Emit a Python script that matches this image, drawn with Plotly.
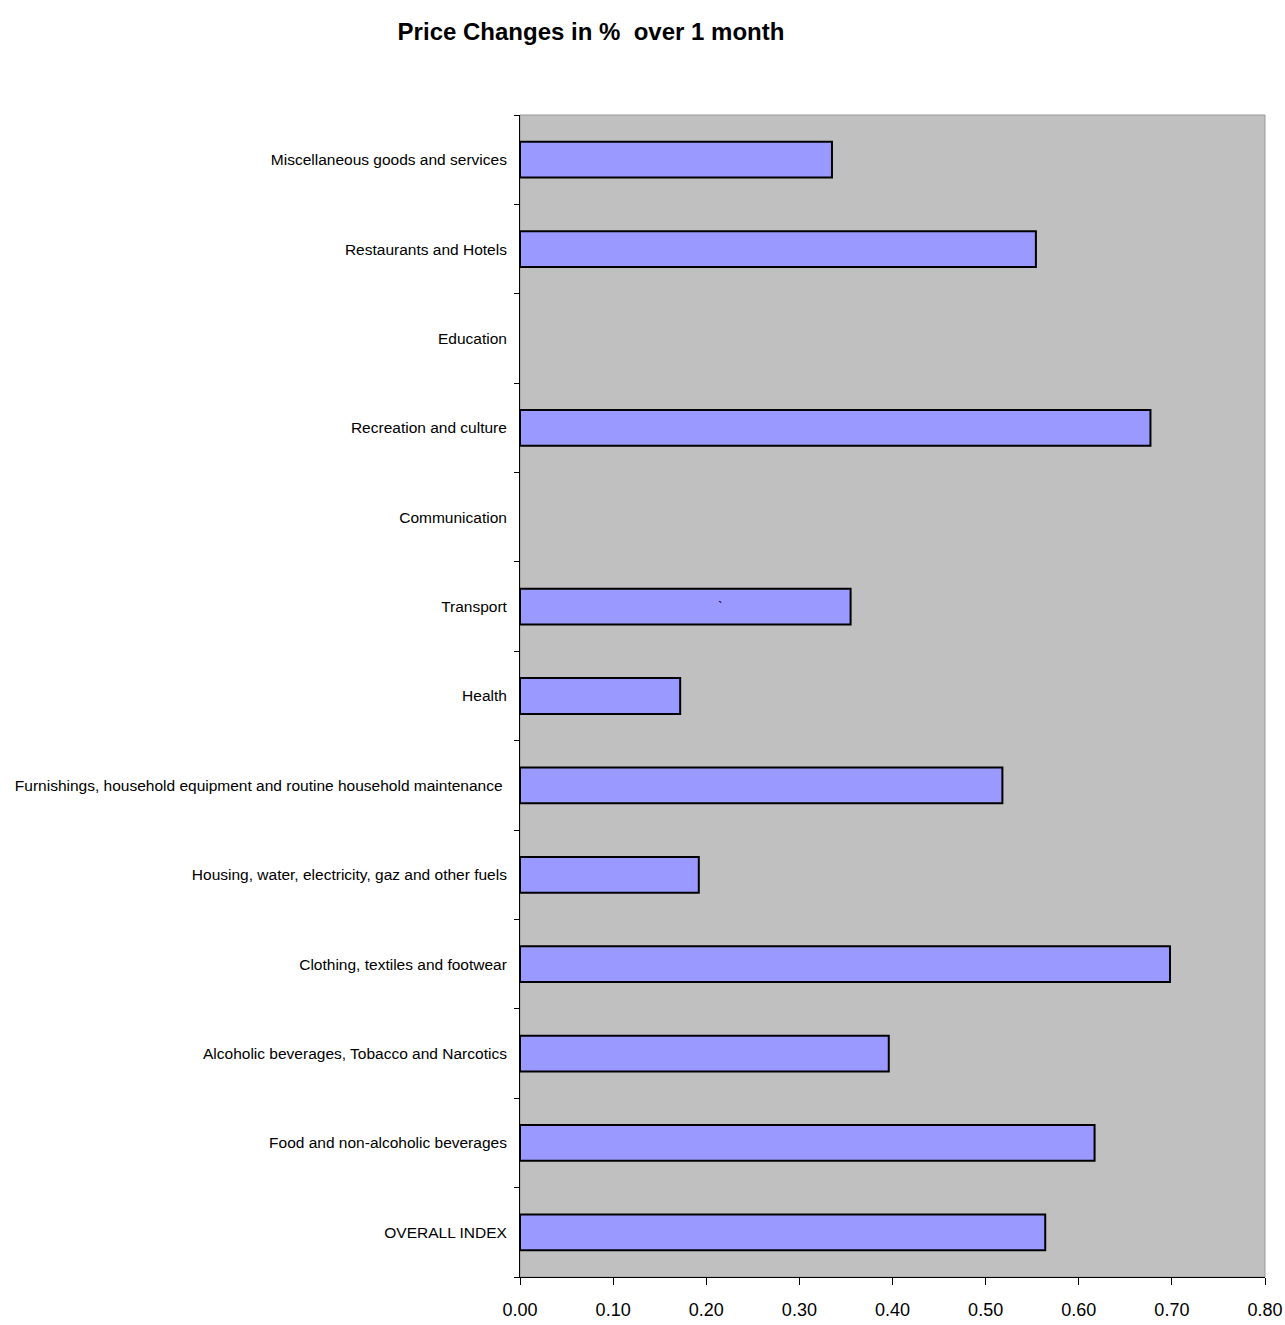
import plotly.graph_objects as go

categories = [
    "OVERALL INDEX",
    "Food and non-alcoholic beverages",
    "Alcoholic beverages, Tobacco and Narcotics",
    "Clothing, textiles and footwear",
    "Housing, water, electricity, gaz and other fuels",
    "Furnishings, household equipment and routine household maintenance ",
    "Health",
    "Transport",
    "Communication",
    "Recreation and culture",
    "Education",
    "Restaurants and Hotels",
    "Miscellaneous goods and services",
]
values = [0.564, 0.617, 0.396, 0.698, 0.192, 0.518, 0.172, 0.355, None, 0.677, None, 0.554, 0.335]
x_ticks = [0.0, 0.1, 0.2, 0.3, 0.4, 0.5, 0.6, 0.7, 0.8]

FONT = "Liberation Sans Narrow, Arial Narrow, Liberation Sans, Arial, sans-serif"

fig = go.Figure(go.Bar(
    x=values, y=categories, orientation="h",
    marker=dict(color="#9999FF", line=dict(color="black", width=2)),
    width=0.4,
))

fig.update_layout(
    width=1285, height=1325,
    margin=dict(l=520, r=20, t=115, b=48),
    paper_bgcolor="white", plot_bgcolor="#C0C0C0",
    font=dict(family=FONT, color="black", size=16),
    showlegend=False,
    title=dict(text="<b>Price Changes in %  over 1 month</b>", x=591 / 1285, xanchor="center",
               y=1 - 32 / 1325, yanchor="middle", xref="container", yref="container",
               font=dict(size=24, family=FONT)),
)
fig.update_xaxes(
    range=[0, 0.8], tickvals=x_ticks, tickformat=".2f",
    showgrid=False, zeroline=False, automargin=False,
    showline=True, linecolor="black", linewidth=1,
    ticks="outside", ticklen=7, tickcolor="black",
    tickfont=dict(size=18, family=FONT), ticklabelstandoff=9,
)
fig.update_yaxes(
    categoryorder="array", categoryarray=categories,
    showgrid=False, zeroline=False, automargin=False,
    showline=True, linecolor="black", linewidth=1,
    ticks="outside", ticklen=5, tickcolor="black", tickson="boundaries",
    tickfont=dict(size=15.5, family=FONT), ticklabelstandoff=9,
)
fig.add_shape(type="rect", xref="paper", yref="paper", x0=0, x1=1, y0=0, y1=1,
              line=dict(color="#999999", width=1), layer="below")
fig.add_annotation(x=0.215, y="Transport", text="`", showarrow=False,
                   font=dict(size=14, color="black"))

fig.write_html("out.html")
